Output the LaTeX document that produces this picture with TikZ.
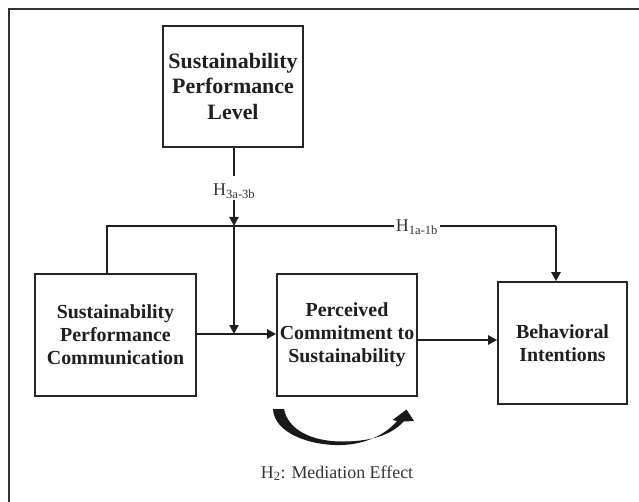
\documentclass[tikz,border=0pt]{standalone}
\usepackage{fontspec}
\setmainfont{Liberation Serif}
\usetikzlibrary{arrows.meta,calc}
\begin{document}
\begin{tikzpicture}[x=1bp,y=-1bp,
  box/.style={draw=black!85, line width=1.7bp, inner sep=0pt, align=center,
    font=\fontsize{20}{23}\selectfont\bfseries, text=black!88},
  conn/.style={line width=2.2bp, draw=black!88},
  arr/.style={conn, -{Triangle[length=9bp,width=9bp]}},
  lab/.style={font=\fontsize{18}{20}\selectfont, text=black!80, inner sep=1.5bp}]
\useasboundingbox (0,0) rectangle (639,502);
\draw[line width=1.6bp, black!80] (639,9) -- (9,9) -- (9,502);

\node[box, minimum width=140bp, minimum height=121bp,
  font=\fontsize{22}{26}\selectfont\bfseries] (spl) at (233,86.5)
  {Sustainability\\Performance\\Level};
\node[box, minimum width=161bp, minimum height=122bp] (spc) at (115.5,335)
  {Sustainability\\Performance\\Communication};
\node[box, minimum width=140bp, minimum height=122bp] (pcs) at (347,335)
  {Perceived\\Commitment to\\Sustainability};
\node[box, minimum width=129bp, minimum height=122bp] (bi) at (562.5,343)
  {Behavioral\\Intentions};

\coordinate (m1) at (234,176);
\coordinate (m2) at (234,200);
\coordinate (j1) at (234,226);
\coordinate (j2) at (234,334);
\coordinate (c1) at (107,226);
\coordinate (c2) at (556,226);
\coordinate (r1) at (0,340);

% moderation path
\draw[conn] (spl.south -| m1) -- (m1);
\node[lab, anchor=base west, inner sep=0pt] (h3) at (213,196) {H\textsubscript{3a-3b}};
\draw[arr] (m2) -- (j1);
\draw[arr] (j1) -- (j2);

% direct path
\draw[conn] (spc.north -| c1) -- (c1) -- (c2);
\draw[arr] (c2) -- (bi.north -| c2);
\node[lab, fill=white, anchor=base] (h1) at (417,232) {H\textsubscript{1a-1b}};

% main paths
\draw[arr] (spc.east |- j2) -- (pcs.west |- j2);
\draw[arr] (pcs.east |- r1) -- (bi.west |- r1);

% mediation curved arrow
\fill[black!90] (273,409) .. controls (274,433) and (310,446) .. (342,445)
  .. controls (368,444) and (387,433) .. (397,421)
  -- (392.5,420) -- (406.5,409.5) -- (414,421) -- (403.5,421.5)
  .. controls (390,437) and (366,441.5) .. (342,441.5)
  .. controls (312,441.5) and (288,430) .. (284,409) -- cycle;
\node[lab, anchor=base] (h2) at (337,478) {H\textsubscript{2}: Mediation Effect};
\end{tikzpicture}
\end{document}
